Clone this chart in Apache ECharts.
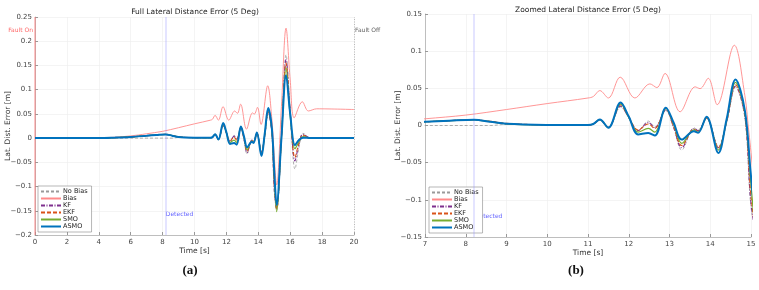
<!DOCTYPE html>
<html>
<head>
<meta charset="utf-8">
<script src="https://cdn.jsdelivr.net/npm/echarts@6/dist/echarts.min.js"></script>
<style>
  html, body { margin: 0; padding: 0; background: #fff; }
  #chart { width: 759px; height: 290px; }
</style>
</head>
<body>
<div id="chart"></div>
<script>
// time stamps [s]
const tBias = [0, 3.5, 4.5, 5.5, 6.5, 7, 8, 9, 10, 11, 11.13, 11.29, 11.5, 11.79, 12.15, 12.52, 12.69, 12.89, 13.26, 13.63, 13.75, 13.95, 14.17, 14.59, 14.85, 14.95, 15.15, 15.45, 15.74, 16.0, 16.25, 16.76, 17.14, 17.66, 20]
const tEst = [0, 4, 5, 6, 7, 7.6, 8.2, 8.6, 9, 10, 11, 11.13, 11.29, 11.5, 11.8, 12.0, 12.23, 12.48, 12.64, 12.91, 13.1, 13.3, 13.6, 13.7, 13.91, 14.2, 14.4, 14.62, 14.85, 15.0, 15.15, 15.45, 15.74, 16.0, 16.3, 16.55, 16.8, 17.3, 20]

// lateral distance error [m]
const bias = [0, 0, 0.001, 0.003, 0.0065, 0.009, 0.014, 0.0215, 0.0295, 0.037, 0.039, 0.047, 0.037, 0.065, 0.037, 0.056, 0.051, 0.070, 0.0185, 0.052, 0.0496, 0.0635, 0.028, 0.108, 0.04, -0.01, -0.097, 0.065, 0.227, 0.12, 0.042, 0.075, 0.056, 0.0605, 0.059]
const noBias = [0, 0, 0, 0, 0, 0, 0, 0, 0.0015, 0.0008, 0.0006, 0.002, 0.007, -0.002, 0.025, 0.011, -0.007, 0.006, -0.002, 0.020, -0.003, -0.033, -0.003, -0.006, 0.009, -0.028, 0.004, 0.052, 0.01, -0.11, -0.145, 0.0, 0.172, 0.06, -0.064, -0.02, 0.01, 0, 0]
const kf = [0, 0, 0.001, 0.0025, 0.005, 0.0065, 0.0077, 0.0052, 0.0024, 0.0008, 0.0006, 0.002, 0.0075, -0.0025, 0.026, 0.011, -0.007, 0.004, -0.003, 0.021, -0.002, -0.030, -0.004, -0.007, 0.010, -0.030, 0.004, 0.053, 0.012, -0.105, -0.147, 0.0, 0.162, 0.055, -0.047, -0.012, 0.008, 0, 0]
const ekf = [0, 0, 0.001, 0.0025, 0.005, 0.0065, 0.0077, 0.0058, 0.0028, 0.0009, 0.0006, 0.002, 0.0078, -0.0027, 0.028, 0.011, -0.006, 0.002, -0.004, 0.022, -0.001, -0.027, -0.005, -0.008, 0.010, -0.030, 0.005, 0.055, 0.014, -0.095, -0.147, 0.0, 0.155, 0.052, -0.040, -0.01, 0.006, 0, 0]
const smo = [0, 0, 0.001, 0.0025, 0.005, 0.0065, 0.0077, 0.0052, 0.0023, 0.0008, 0.0006, 0.002, 0.008, -0.003, 0.029, 0.011, -0.009, -0.004, -0.009, 0.023, 0.002, -0.024, -0.006, -0.009, 0.011, -0.033, 0.006, 0.058, 0.017, -0.08, -0.152, 0.0, 0.145, 0.045, -0.022, -0.007, 0.003, 0, 0]
const asmo = [0, 0, 0.001, 0.0025, 0.005, 0.0065, 0.0077, 0.005, 0.0022, 0.0008, 0.0006, 0.002, 0.008, -0.003, 0.031, 0.012, -0.012, -0.010, -0.0135, 0.024, 0.004, -0.019, -0.0077, -0.0099, 0.0118, -0.037, 0.008, 0.062, 0.02, -0.068, -0.138, 0.0, 0.130, 0.05, -0.0145, -0.004, 0.001, 0, 0]

const legendNames = ['No Bias', 'Bias', 'KF', 'EKF', 'SMO', 'ASMO']
const detectT = 8.2

const zip = (t, v) => t.map((x, i) => [x, v[i]])
const fmt = v => (v === 0 ? '0' : String(+v.toFixed(2)).replace('-', '\u2212'))
const font = 'DejaVu Sans'

const lines = [
  { name: 'No Bias', t: tEst, v: noBias, color: '#9a9a9a', width: 0.8, type: [3, 2] },
  { name: 'Bias', t: tBias, v: bias, color: '#ff8a8a', width: 0.9, type: 'solid' },
  { name: 'KF', t: tEst, v: kf, color: '#7e2f8e', width: 1.1, type: [4, 1.5, 1, 1.5] },
  { name: 'EKF', t: tEst, v: ekf, color: '#d95319', width: 1.1, type: [4, 2] },
  { name: 'SMO', t: tEst, v: smo, color: '#77ac30', width: 1.2, type: 'solid' },
  { name: 'ASMO', t: tEst, v: asmo, color: '#0072bd', width: 2, type: 'solid' }
]

const chart = echarts.init(document.getElementById('chart'))

const grids = [
  { left: 35, width: 319, top: 17, height: 218 },
  { left: 425, width: 326, top: 14, height: 223 }
]

const xAxis = [
  { min: 0, max: 20, interval: 2 },
  { min: 7, max: 15, interval: 1 }
].map((a, i) => ({
  type: 'value', gridIndex: i, ...a,
  name: 'Time [s]', nameLocation: 'middle', nameGap: 12, nameMoveOverlap: false,
  nameTextStyle: { fontSize: 7.5, color: '#333', fontFamily: font },
  axisLine: { onZero: false, lineStyle: { color: '#999', width: 0.6 } },
  axisTick: { inside: true, length: 3, lineStyle: { color: '#999' } },
  axisLabel: { fontSize: 7, color: '#444', margin: 4, fontFamily: font },
  splitLine: { lineStyle: { color: '#ececec', width: 0.6 } }
}))

const yAxis = [
  { min: -0.2, max: 0.25, interval: 0.05 },
  { min: -0.15, max: 0.15, interval: 0.05 }
].map((a, i) => ({
  type: 'value', gridIndex: i, ...a,
  name: 'Lat. Dist. Error [m]', nameLocation: 'middle', nameGap: 23, nameMoveOverlap: false,
  nameTextStyle: { fontSize: 7.5, color: '#333', fontFamily: font },
  axisLine: { show: true, onZero: false, lineStyle: { color: '#999', width: 0.6 } },
  axisTick: { show: true, inside: true, length: 3, lineStyle: { color: '#999' } },
  axisLabel: { fontSize: 7, color: '#444', margin: 3, formatter: fmt, fontFamily: font },
  splitLine: { lineStyle: { color: '#ececec', width: 0.6 } }
}))

const series = []
for (let g = 0; g < 2; g++) {
  // marker lines and notes
  const marks = [{ xAxis: detectT, lineStyle: { color: 'rgba(150,150,255,0.35)', width: 1.5, type: 'solid' } }]
  if (g === 0) {
    marks.push({ xAxis: 0, lineStyle: { color: 'rgba(255,110,110,0.4)', width: 2, type: 'solid' } })
    marks.push({ xAxis: 20, lineStyle: { color: '#aaa', width: 0.8, type: [1, 1.5] } })
  }
  series.push({
    type: 'scatter', xAxisIndex: g, yAxisIndex: g, symbolSize: 0, silent: true, z: 1,
    data: g === 0
      ? [
          { value: [detectT, -0.158], label: { formatter: 'Detected', color: '#3b3bff', position: 'right', distance: 0 } },
          { value: [0, 0.223], label: { formatter: 'Fault On', color: '#ff3b3b', position: 'left', distance: 2 } },
          { value: [20, 0.223], label: { formatter: 'Fault Off', color: '#333', position: 'right', distance: 1 } }
        ]
      : [{ value: [detectT, -0.122], label: { formatter: 'Detected', color: '#3b3bff', position: 'right', distance: 1 } }],
    label: { show: true, fontSize: 6, fontFamily: font },
    markLine: { silent: true, symbol: 'none', label: { show: false }, data: marks }
  })
  lines.forEach((l, i) => {
    series.push({
      name: l.name, type: 'line', xAxisIndex: g, yAxisIndex: g,
      data: zip(l.t, l.v), symbol: 'none', smooth: 0.35, clip: true, z: 3 + i,
      color: l.color,
      lineStyle: { color: l.color, width: l.width, type: l.type }
    })
  })
}

const legendBase = {
  data: legendNames, orient: 'vertical', itemGap: 0, itemWidth: 20, itemHeight: 7,
  padding: [2, 4, 2, 2], backgroundColor: '#fff', borderColor: '#888', borderWidth: 0.6,
  borderRadius: 0, selectedMode: false,
  itemStyle: { opacity: 0 },
  textStyle: { fontSize: 6.5, color: '#222', fontFamily: font, padding: [0, 0, 0, -3] }
}

chart.setOption({
  animation: false,
  grid: grids,
  xAxis, yAxis, series,
  legend: [
    { ...legendBase, left: 38, top: 186 },
    { ...legendBase, left: 429, top: 187 }
  ],
  graphic: [
    { type: 'text', x: 195, y: 12, style: { text: 'Full Lateral Distance Error (5 Deg)', align: 'center', verticalAlign: 'middle', fontSize: 7.5, fill: '#222', fontFamily: font } },
    { type: 'text', x: 588, y: 10, style: { text: 'Zoomed Lateral Distance Error (5 Deg)', align: 'center', verticalAlign: 'middle', fontSize: 7.5, fill: '#222', fontFamily: font } },
    { type: 'text', x: 190, y: 271, style: { text: '(a)', align: 'center', verticalAlign: 'middle', fontSize: 13, fill: '#111', fontFamily: 'Liberation Serif', fontWeight: 'bold' } },
    { type: 'text', x: 576, y: 271, style: { text: '(b)', align: 'center', verticalAlign: 'middle', fontSize: 13, fill: '#111', fontFamily: 'Liberation Serif', fontWeight: 'bold' } }
  ]
})
</script>
</body>
</html>
